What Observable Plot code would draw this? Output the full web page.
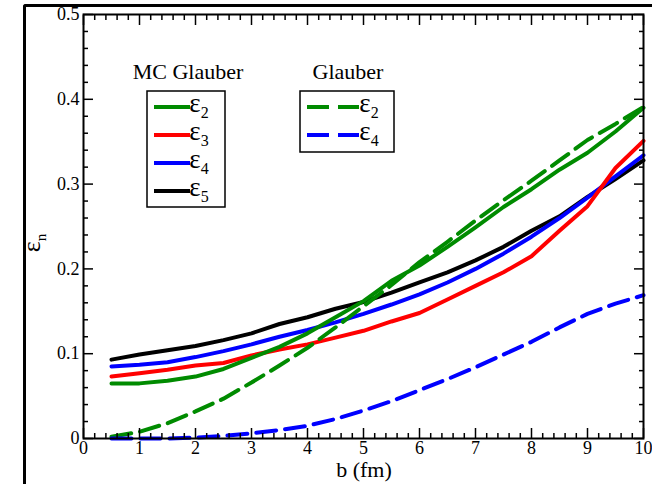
<!DOCTYPE html>
<html><head><meta charset="utf-8">
<script src="https://cdn.jsdelivr.net/npm/d3@7"></script>
<script src="https://cdn.jsdelivr.net/npm/@observablehq/plot@0.6"></script>
<style>
body{margin:0;background:#fff;}
#wrap{position:relative;width:652px;height:484px;overflow:hidden;background:#fff;}
#border{position:absolute;left:23px;top:4px;width:660px;height:520px;border-left:3.5px solid #000;border-top:3.5px solid #000;border-top-left-radius:3px;pointer-events:none;}
#wrap svg{position:absolute;left:0;top:0;}
#wrap svg text{font-family:'Liberation Serif','DejaVu Serif',serif;}
</style></head><body><div id="wrap"><div id="border"></div></div>
<script>
// ---- data ----
const b = [0.5,1,1.5,2,2.5,3,3.5,4,4.5,5,5.5,6,6.5,7,7.5,8,8.5,9,9.5,10];
const mcEps2 = [0.065,0.065,0.068,0.073,0.082,0.095,0.108,0.124,0.143,0.162,0.186,0.204,0.226,0.249,0.273,0.294,0.317,0.337,0.362,0.390];
const mcEps3 = [0.073,0.077,0.081,0.086,0.089,0.098,0.105,0.111,0.119,0.127,0.138,0.148,0.164,0.180,0.196,0.215,0.245,0.274,0.319,0.351];
const mcEps4 = [0.085,0.087,0.090,0.096,0.103,0.111,0.120,0.128,0.137,0.147,0.158,0.170,0.184,0.200,0.218,0.238,0.260,0.284,0.309,0.334];
const mcEps5 = [0.093,0.099,0.104,0.109,0.116,0.124,0.135,0.143,0.153,0.161,0.172,0.184,0.196,0.210,0.226,0.245,0.262,0.285,0.306,0.328];
const glEps2 = [0.002,0.008,0.018,0.032,0.047,0.066,0.086,0.107,0.131,0.156,0.181,0.208,0.232,0.257,0.281,0.304,0.328,0.352,0.371,0.391];
const glEps4 = [0.000,0.000,0.000,0.001,0.003,0.006,0.010,0.015,0.023,0.033,0.044,0.057,0.070,0.084,0.099,0.114,0.131,0.147,0.159,0.169];

const seriesNames  = ["MC ε5","MC ε4","MC ε3","MC ε2","Glauber ε2","Glauber ε4"];
const seriesValues = [mcEps5, mcEps4, mcEps3, mcEps2, glEps2, glEps4];
const seriesColors = ["#000000","#0000ff","#ff0000","#008b00","#008b00","#0000ff"];

const xTickLabels = ["0","1","2","3","4","5","6","7","8","9","10"];
const yTickLabels = ["0","0.1","0.2","0.3","0.4","0.5"];
const xLabel = "b (fm)";
const legendMC = {title: "MC Glauber", series: ["MC ε2","MC ε3","MC ε4","MC ε5"], subs: ["2","3","4","5"]};
const legendGl = {title: "Glauber", series: ["Glauber ε2","Glauber ε4"], subs: ["2","4"]};

// ---- build ----
const rows = seriesNames.flatMap((s, i) => b.map((bv, j) => ({b: bv, eps: seriesValues[i][j], series: s, mc: s.startsWith("MC")})));
const colorOf = Object.fromEntries(seriesNames.map((s, i) => [s, seriesColors[i]]));
const xMajor = d3.range(0, 11);
const xMinor = d3.range(0, 51).filter(i => i % 5).map(i => i / 5);
const yMajor = d3.range(0, 6).map(i => i / 10);
const yMinor = d3.range(0, 26).filter(i => i % 5).map(i => i / 50);
const blank = () => "";
const FF = "'Liberation Serif','DejaVu Serif',serif";

const tickMarks = [];
for (const anchor of ["bottom", "top"]) {
  tickMarks.push(Plot.axisX(xMajor, {anchor, tickSize: -10, tickFormat: blank, label: null, strokeWidth: 1.5}));
  tickMarks.push(Plot.axisX(xMinor, {anchor, tickSize: -5, tickFormat: blank, label: null, strokeWidth: 1.5}));
}
for (const anchor of ["left", "right"]) {
  tickMarks.push(Plot.axisY(yMajor, {anchor, tickSize: -10, tickFormat: blank, label: null, strokeWidth: 1.5}));
  tickMarks.push(Plot.axisY(yMinor, {anchor, tickSize: -5, tickFormat: blank, label: null, strokeWidth: 1.5}));
}

const chart = Plot.plot({
  width: 652, height: 484,
  marginLeft: 83, marginRight: 9, marginTop: 14, marginBottom: 46,
  x: {domain: [0, 10], label: null},
  y: {domain: [0, 0.5], label: null},
  color: {domain: seriesNames, range: seriesColors},
  style: {fontFamily: FF, fontSize: "18px", background: "transparent", color: "#000"},
  marks: [
    Plot.line(rows.filter(d => d.mc), {x: "b", y: "eps", z: "series", stroke: "series", strokeWidth: 4}),
    Plot.line(rows.filter(d => !d.mc), {x: "b", y: "eps", z: "series", stroke: "series", strokeWidth: 4, strokeDasharray: "20,9"}),
    Plot.frame({strokeWidth: 2}),
    ...tickMarks,
    Plot.axisX(xMajor, {anchor: "bottom", tickSize: 0, tickPadding: 3, label: null, tickFormat: d => xTickLabels[xMajor.indexOf(d)]}),
    Plot.axisY(yMajor, {anchor: "left", tickSize: 0, tickPadding: 4, label: null, tickFormat: d => yTickLabels[Math.round(d * 10)]})
  ]
});
document.getElementById("wrap").appendChild(chart);

// ---- overlay texts and legends ----
const svg = d3.select(chart);
function epsText(g, x, y, sub, size, subSize, dy) {
  const t = g.append("text").attr("x", x).attr("y", y).attr("font-size", size).attr("fill", "#000");
  t.append("tspan").text("ε");
  t.append("tspan").attr("dy", dy).attr("font-size", subSize).text(sub);
  return t;
}
// x label
svg.append("text").attr("x", 364).attr("y", 477).attr("text-anchor", "middle")
  .attr("font-size", 22).attr("fill", "#000").text(xLabel);
// y label
const yl = svg.append("g").attr("transform", "translate(40,243) rotate(-90)");
epsText(yl, 0, 0, "n", 26, 15, 6).attr("text-anchor", "middle");

function legend(spec, titleX, box, lineX1, lineX2, labelX, dashed) {
  const g = svg.append("g");
  g.append("text").attr("x", titleX).attr("y", 79).attr("text-anchor", "middle")
    .attr("font-size", 22).attr("fill", "#000").text(spec.title);
  g.append("rect").attr("x", box[0]).attr("y", box[1]).attr("width", box[2]).attr("height", box[3])
    .attr("fill", "none").attr("stroke", "#000").attr("stroke-width", 1.5);
  spec.series.forEach((s, i) => {
    const y = 107 + i * 28;
    g.append("line").attr("x1", lineX1).attr("x2", lineX2).attr("y1", y).attr("y2", y)
      .attr("stroke", colorOf[s]).attr("stroke-width", 4).attr("stroke-dasharray", dashed ? "22,9" : null);
    epsText(g, labelX, y + 5, spec.subs[i], 27, 16, 6);
  });
}
legend(legendMC, 188, [147, 91, 78, 116], 154, 190, 199, false);
legend(legendGl, 348, [300, 91, 94, 61], 307, 359, 369, true);
</script></body></html>
